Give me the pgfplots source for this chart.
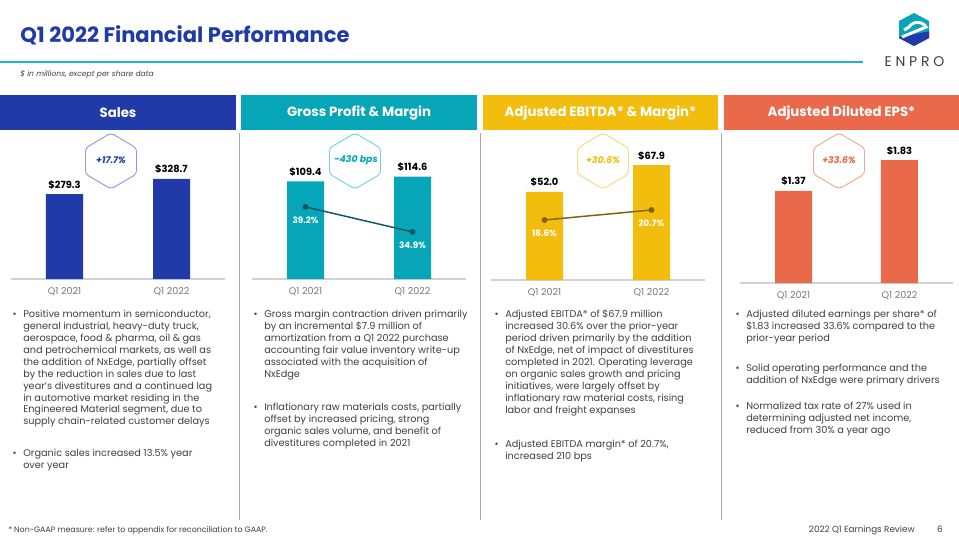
\documentclass[border=0pt]{standalone}
\usepackage{fontspec}
\setmainfont{Poppins}
\usepackage{pgfplots}
\pgfplotsset{compat=1.18}
\definecolor{eblue}{RGB}{32,58,168}
\definecolor{eteal}{RGB}{6,166,184}
\definecolor{eyellow}{RGB}{242,189,12}
\definecolor{eorange}{RGB}{233,105,74}
\definecolor{eline}{RGB}{28,182,200}
\definecolor{etext}{RGB}{64,64,64}
\definecolor{eticks}{RGB}{120,120,120}
\definecolor{hblue}{RGB}{140,155,225}
\definecolor{hteal}{RGB}{120,210,220}
\definecolor{hyellow}{RGB}{248,218,120}
\definecolor{horange}{RGB}{245,165,145}
\definecolor{gpline}{RGB}{12,88,94}
\definecolor{ebline}{RGB}{125,100,10}
\definecolor{sepgray}{RGB}{170,170,170}
\definecolor{axgray}{RGB}{210,210,210}

\pgfplotsset{
  minibar/.style={
    scale only axis, height=105pt, ymin=0,
    axis x line=bottom, axis y line=none,
    x axis line style={draw=axgray, line width=0.8pt, -},
    xtick={0,1}, xticklabels={Q1 2021,Q1 2022},
    major tick length=0pt,
    xticklabel style={font=\fontsize{7.2}{8}\selectfont, text=eticks, yshift=-3pt},
    enlargelimits=false, clip=false,
    bar width=27.75pt,
    nodes near coords, point meta=explicit symbolic,
    every node near coord/.style={font=\bfseries\fontsize{7.4}{8}\selectfont, text=black, anchor=base, yshift=4.5pt},
  },
  miniline/.style={
    scale only axis, height=105pt, hide axis, enlargelimits=false, clip=false,
    nodes near coords, point meta=explicit symbolic,
    every node near coord/.style={font=\bfseries\fontsize{6.6}{7}\selectfont, text=white, anchor=center, yshift=-10.2pt},
  },
}

\begin{document}
\begin{tikzpicture}[x=0.75pt,y=0.75pt]
\path[use as bounding box, fill=white] (0,0) rectangle (959,-540);

% title
\node[anchor=base west, inner sep=0, font=\bfseries\fontsize{15.8}{17}\selectfont, text=eblue] at (20,-42) {Q1 2022 Financial Performance};
\draw[eline, line width=0.9pt] (0,-62) -- (863,-62);
\node[anchor=base west, inner sep=0, font=\itshape\fontsize{5.7}{6}\selectfont, text=etext] at (20,-76) {\$ in millions, except per share data};

% logo
\begin{scope}
\clip (914,-13) -- (929,-21) -- (929,-38) -- (914,-46) -- (899,-38) -- (899,-21) -- cycle;
\fill[eteal] (895,-10) rectangle (935,-50);
\fill[eblue] (895,-38) -- (935,-30) -- (935,-50) -- (895,-50) -- cycle;
\draw[white, line width=2.2pt] (902,-37) -- (926,-27) arc[start angle=20, end angle=160, x radius=9, y radius=7] -- (904,-30);
\end{scope}
\node[font=\fontsize{10.5}{11}\selectfont, text=etext, inner sep=0] at (914.5,-62) {E\kern2.8pt N\kern2.8pt P\kern2.8pt R\kern2.8pt O};

% headers
\fill[eblue] (0,-95) rectangle (236,-130);
\fill[eteal] (241,-95) rectangle (477,-130);
\fill[eyellow] (483,-95) rectangle (718,-130);
\fill[eorange] (724,-95) rectangle (959,-130);
\node[font=\bfseries\fontsize{10}{11}\selectfont, text=white] at (118,-112.5) {Sales};
\node[font=\bfseries\fontsize{10}{11}\selectfont, text=white] at (359,-112.5) {Gross Profit \& Margin};
\node[font=\bfseries\fontsize{10}{11}\selectfont, text=white] at (600.5,-112.5) {Adjusted EBITDA* \& Margin*};
\node[font=\bfseries\fontsize{10}{11}\selectfont, text=white] at (841.5,-112.5) {Adjusted Diluted EPS*};

% separators
\draw[sepgray, line width=0.8pt] (239.5,-133) -- (239.5,-520);
\draw[sepgray, line width=0.8pt] (480.5,-133) -- (480.5,-520);
\draw[sepgray, line width=0.8pt] (721.5,-133) -- (721.5,-520);

% Sales
\begin{axis}[minibar, at={(8.25pt,-209.25pt)}, anchor=south west, width=160.5pt, xmin=-0.5, xmax=1.5, ymax=460]
\addplot[ybar, fill=eblue, draw=none] coordinates {(0,279.3) [\$279.3] (1,328.7) [\$328.7]};
\end{axis}
% Gross profit
\begin{axis}[minibar, at={(189pt,-209.25pt)}, anchor=south west, width=160.5pt, xmin=-0.5, xmax=1.5, ymax=156.8]
\addplot[ybar, fill=eteal, draw=none] coordinates {(0,109.4) [\$109.4] (1,114.6) [\$114.6]};
\end{axis}
\begin{axis}[miniline, at={(189pt,-209.25pt)}, anchor=south west, width=160.5pt, xmin=-0.5, xmax=1.5, ymin=26.8, ymax=50.88]
\addplot[gpline, line width=1.1pt, mark=*, mark size=1.6pt] coordinates {(0,39.2) [39.2\%] (1,34.9) [34.9\%]};
\end{axis}
% EBITDA
\begin{axis}[minibar, at={(368.25pt,-210pt)}, anchor=south west, width=160.5pt, xmin=-0.5, xmax=1.5, ymax=82.7]
\addplot[ybar, fill=eyellow, draw=none] coordinates {(0,52.0) [\$52.0] (1,67.9) [\$67.9]};
\end{axis}
\begin{axis}[miniline, at={(368.25pt,-210pt)}, anchor=south west, width=160.5pt, xmin=-0.5, xmax=1.5, ymin=6.0, ymax=35.4]
\addplot[ebline, line width=1.1pt, mark=*, mark size=1.6pt] coordinates {(0,18.6) [18.6\%] (1,20.7) [20.7\%]};
\end{axis}
% EPS
\begin{axis}[minibar, at={(555pt,-212.25pt)}, anchor=south west, width=159.75pt, xmin=-0.505, xmax=1.505, ymax=2.083]
\addplot[ybar, fill=eorange, draw=none] coordinates {(0,1.37) [\$1.37] (1,1.83) [\$1.83]};
\end{axis}

% badges
\tikzset{badge/.style={font=\bfseries\itshape\fontsize{7}{8}\selectfont}}
\draw[hblue, line width=0.7pt, rounded corners=2.5pt] (111,-133) -- ++(25.5,-15) -- ++(0,-26) -- ++(-25.5,-15) -- ++(-25.5,15) -- ++(0,26) -- cycle;
\node[badge, text=eblue] at (111,-160) {+17.7\%};
\draw[hteal, line width=0.7pt, rounded corners=2.5pt] (355,-133) -- ++(25.5,-15) -- ++(0,-26) -- ++(-25.5,-15) -- ++(-25.5,15) -- ++(0,26) -- cycle;
\node[badge, text=eteal] at (356,-160) {-430 bps};
\draw[hyellow, line width=0.7pt, rounded corners=2.5pt] (603,-133) -- ++(25.5,-15) -- ++(0,-26) -- ++(-25.5,-15) -- ++(-25.5,15) -- ++(0,26) -- cycle;
\node[badge, text=eyellow] at (603,-160) {+30.6\%};
\draw[horange, line width=0.7pt, rounded corners=2.5pt] (839,-133) -- ++(25.5,-15) -- ++(0,-26) -- ++(-25.5,-15) -- ++(-25.5,15) -- ++(0,26) -- cycle;
\node[badge, text=eorange] at (839,-160) {+33.6\%};

% bullet text
\tikzset{btxt/.style={anchor=north west, inner sep=0, align=left, text=etext, font=\fontsize{7.3}{8.93}\selectfont}}
\newcommand{\bul}{\makebox[0pt][r]{\textbullet\hspace{5pt}}}
\node[btxt] at (23,-310) {\bul Positive momentum in semiconductor,\\general industrial, heavy-duty truck,\\aerospace, food \& pharma, oil \& gas\\and petrochemical markets, as well as\\the addition of NxEdge, partially offset\\by the reduction in sales due to last\\year's divestitures and a continued lag\\in automotive market residing in the\\Engineered Material segment, due to\\supply chain-related customer delays};
\node[btxt] at (23,-449) {\bul Organic sales increased 13.5\% year\\over year};
\node[btxt] at (264,-310) {\bul Gross margin contraction driven primarily\\by an incremental \$7.9 million of\\amortization from a Q1 2022 purchase\\accounting fair value inventory write-up\\associated with the acquisition of\\NxEdge};
\node[btxt] at (264,-403) {\bul Inflationary raw materials costs, partially\\offset by increased pricing, strong\\organic sales volume, and benefit of\\divestitures completed in 2021};
\node[btxt] at (505,-310) {\bul Adjusted EBITDA* of \$67.9 million\\increased 30.6\% over the prior-year\\period driven primarily by the addition\\of NxEdge, net of impact of divestitures\\completed in 2021. Operating leverage\\on organic sales growth and pricing\\initiatives, were largely offset by\\inflationary raw material costs, rising\\labor and freight expanses};
\node[btxt] at (505,-440) {\bul Adjusted EBITDA margin* of 20.7\%,\\increased 210 bps};
\node[btxt] at (746,-310) {\bul Adjusted diluted earnings per share* of\\\$1.83 increased 33.6\% compared to the\\prior-year period};
\node[btxt] at (746,-364) {\bul Solid operating performance and the\\addition of NxEdge were primary drivers};
\node[btxt] at (746,-402) {\bul Normalized tax rate of 27\% used in\\determining adjusted net income,\\reduced from 30\% a year ago};

% footer
\node[anchor=base west, inner sep=0, font=\fontsize{5.9}{6.5}\selectfont, text=etext] at (8,-532) {* Non-GAAP measure: refer to appendix for reconciliation to GAAP.};
\node[anchor=base east, inner sep=0, font=\fontsize{6.6}{7}\selectfont, text=etext] at (915,-532) {2022 Q1 Earnings Review};
\node[anchor=base, inner sep=0, font=\fontsize{6.6}{7}\selectfont, text=etext] at (940,-532) {6};
\end{tikzpicture}
\end{document}
